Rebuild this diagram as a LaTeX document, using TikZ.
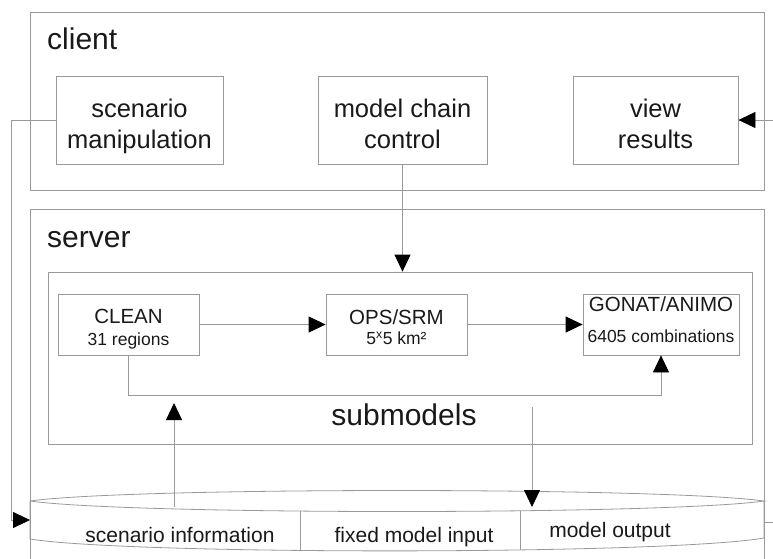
\documentclass[tikz,border=0pt]{standalone}
\usepackage{fontspec}
\setmainfont{Liberation Sans}
\usetikzlibrary{arrows.meta}

\definecolor{linegray}{gray}{0.6}
\definecolor{textgray}{gray}{0.1}
\newcommand{\topgap}[1]{\rule{0pt}{#1}}
\newcommand{\botgap}[1]{\rule[-#1]{0pt}{#1}}

\begin{document}
\begin{tikzpicture}[x=1pt, y=-1pt, >={Triangle[length=17pt,width=16pt,color=black]},
    box/.style={draw=linegray, line width=0.8pt, inner sep=0pt, align=center, text=textgray},
    bigbox/.style={box, minimum width=#1, minimum height=88pt, font=\fontsize{25.5}{31}\selectfont},
    smallbox/.style={box, minimum width=#1, minimum height=61pt},
    wire/.style={draw=linegray, line width=0.8pt},
    head/.style={text=textgray, inner sep=0pt, anchor=base west, font=\fontsize{30}{36}\selectfont},
    cell/.style={text=textgray, inner sep=0pt, anchor=base, font=\fontsize{21}{25}\selectfont}]

\useasboundingbox (0,0) rectangle (773,558);

% client and server frames
\draw[wire] (30,12) rectangle (764,190);
\draw[wire] (30,560) -- (30,209) -- (764,209) -- (764,560);

\node[head] (clientlbl) at (47,49) {client};
\node[head] (serverlbl) at (47,247) {server};

% client boxes
\node[bigbox=167pt] (scen) at (139.5,120) {\topgap{32pt}scenario\\manipulation\botgap{7pt}};
\node[bigbox=169pt] (mcc) at (402.5,120) {\topgap{32pt}model chain\\control\botgap{7pt}};
\node[bigbox=165pt] (view) at (655.5,120) {\topgap{32pt}view\\results\botgap{7pt}};

% submodels
\node[box, minimum width=704pt, minimum height=172pt] (sub) at (400.5,358) {};
\node[head, anchor=base] (sublbl) at (404,425) {submodels};

\node[smallbox=141pt, font=\fontsize{20.5}{22}\selectfont] (clean) at (128.5,324.5)
    {\topgap{23pt}CLEAN\\{\fontsize{17.5}{21}\selectfont 31 regions}\botgap{4pt}};
\node[smallbox=141pt, font=\fontsize{20.5}{20}\selectfont] (ops) at (396.5,324.5)
    {\topgap{24pt}OPS/SRM\\{\fontsize{17.5}{21}\selectfont 5\textsuperscript{x}5 km²}\botgap{4pt}};
\node[smallbox=156pt, font=\fontsize{20.5}{31}\selectfont] (gonat) at (661,324.5)
    {\topgap{16pt}GONAT/ANIMO\\{\fontsize{17.5}{21}\selectfont 6405 combinations}\botgap{12pt}};

% data store
\coordinate (dbL) at (30,501);
\coordinate (dbR) at (764,501);
\draw[wire] (dbL) .. controls (130,487) and (664,487) .. (dbR)
    .. controls (664,515) and (130,515) .. (dbL) -- (30,539)
    .. controls (130,555) and (664,555) .. (764,538) -- (dbR);
\draw[wire] (300,511) -- (300,550);
\draw[wire] (520,511) -- (520,550);

\node[cell] (infolbl) at (180,542) {scenario information};
\node[cell] (inputlbl) at (414,542) {fixed model input};
\node[cell] (outputlbl) at (610,537) {model output};

% connectors
\coordinate (dbin) at (30,520);
\coordinate (viewin) at (773,120);
\coordinate (dbout) at (764,522);
\coordinate (rstub) at (773,522);
\coordinate (infoout) at (174,507);
\coordinate (infoin) at (174,403);
\coordinate (resout) at (532,407);
\coordinate (resin) at (532,507);

\draw[wire,->] (scen.west) -- ++(-44,0) |- (dbin);
\draw[wire,->] (viewin) -- (view.east);
\draw[wire] (dbout) -- (rstub);
\draw[wire,->] (mcc.south) -- (mcc.south |- sub.north);
\draw[wire,->] (clean) -- (ops);
\draw[wire,->] (ops) -- (gonat);
\draw[wire,->] (clean.south) -- ++(0,39.5) -| (gonat.south);
\draw[wire,->] (infoout) -- (infoin);
\draw[wire,->] (resout) -- (resin);

\end{tikzpicture}
\end{document}
